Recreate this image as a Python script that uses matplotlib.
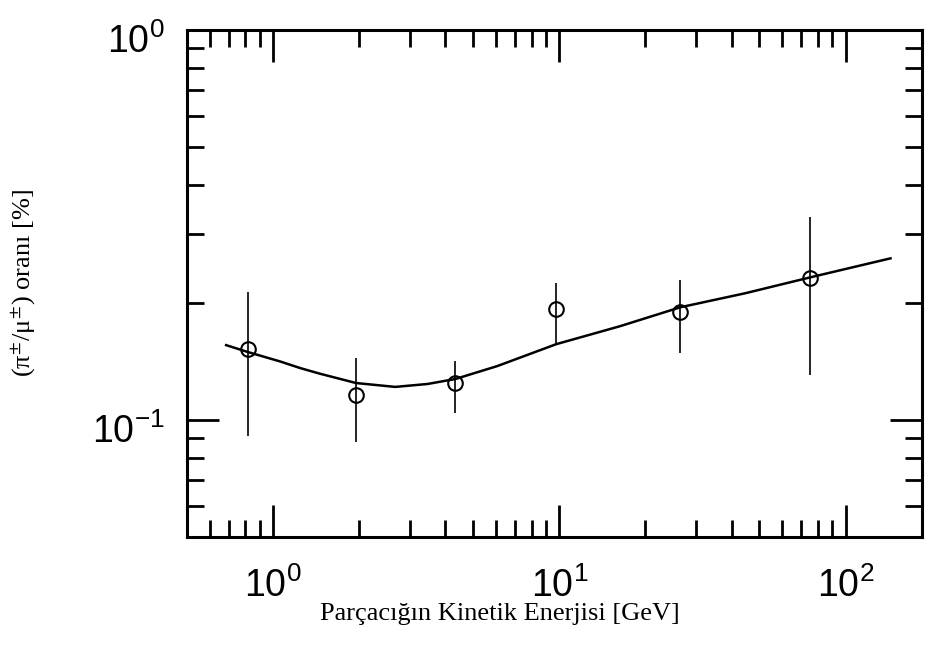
import numpy as np
import matplotlib
matplotlib.use('Agg')
import matplotlib.pyplot as plt
import matplotlib.transforms as mtransforms
from matplotlib.ticker import FuncFormatter, NullFormatter, LogLocator

plt.rcParams['mathtext.fontset'] = 'stix'

# measured points (kinetic energy in GeV, pi/mu ratio)
energy = [0.82, 1.95, 4.33, 9.76, 26.5, 75.4]
ratio = [0.152, 0.116, 0.124, 0.193, 0.189, 0.231]
ratio_hi = [0.213, 0.144, 0.142, 0.225, 0.229, 0.332]
ratio_lo = [0.091, 0.088, 0.104, 0.156, 0.148, 0.130]

# calculated curve
curve_e = [0.685, 0.818, 1.058, 1.243, 1.46, 1.95, 2.67, 3.46, 4.33, 6.07,
           9.76, 16.3, 26.5, 44.7, 75.4, 143.6]
curve_r = [0.1555, 0.1492, 0.1412, 0.1358, 0.1313, 0.1243, 0.1215, 0.1236, 0.1273, 0.1374,
           0.1564, 0.1739, 0.1945, 0.2113, 0.2321, 0.2596]

fig = plt.figure(figsize=(9.28, 6.52), dpi=100)
ax = fig.add_axes([0.2015, 0.176, 0.792, 0.778])

ax.plot(curve_e, curve_r, color='black', lw=1.8)

yerr = [np.array(ratio) - np.array(ratio_lo), np.array(ratio_hi) - np.array(ratio)]
ax.errorbar(energy, ratio, yerr=yerr, fmt='o', mfc='none', mec='black', ms=10.5,
            mew=1.5, ecolor='black', elinewidth=1.2, capsize=0)

ax.set_xscale('log')
ax.set_yscale('log')
ax.set_xlim(0.5, 185)
ax.set_ylim(0.05, 1.0)

for sp in ax.spines.values():
    sp.set_linewidth(2.2)

fmt = FuncFormatter(lambda v, p: r'$\mathregular{10^{%d}}$' % int(round(np.log10(v))))
ax.xaxis.set_major_formatter(fmt)
ax.yaxis.set_major_formatter(fmt)
ax.xaxis.set_minor_formatter(NullFormatter())
ax.yaxis.set_minor_formatter(NullFormatter())
ax.xaxis.set_minor_locator(LogLocator(base=10, subs=np.arange(2, 10)))
ax.yaxis.set_minor_locator(LogLocator(base=10, subs=np.arange(2, 10)))

ax.tick_params(which='both', direction='in', top=True, right=True, width=2)
ax.tick_params(which='major', length=23)
ax.tick_params(which='minor', length=12.5)
ax.tick_params(axis='x', which='major', pad=22)
ax.tick_params(axis='y', which='major', pad=16)
for lab in ax.get_xticklabels() + ax.get_yticklabels():
    lab.set_fontfamily('Liberation Sans')
    lab.set_fontsize(27)

# y tick labels sit a little below their ticks in the original
shift = mtransforms.ScaledTranslation(0, -6 / 72, fig.dpi_scale_trans)
for lab in ax.get_yticklabels():
    lab.set_transform(lab.get_transform() + shift)

fig.text(0.539, 0.058, 'Parçacığın Kinetik Enerjisi [GeV]', ha='center', va='center',
         fontsize=19, family='Liberation Serif')
fig.text(0.026, 0.566, r'(π$^{\pm}$/μ$^{\pm}$) oranı [%]', ha='center', va='center',
         rotation=90, fontsize=19, family='Liberation Serif')

fig.savefig('out.png', dpi=100)
